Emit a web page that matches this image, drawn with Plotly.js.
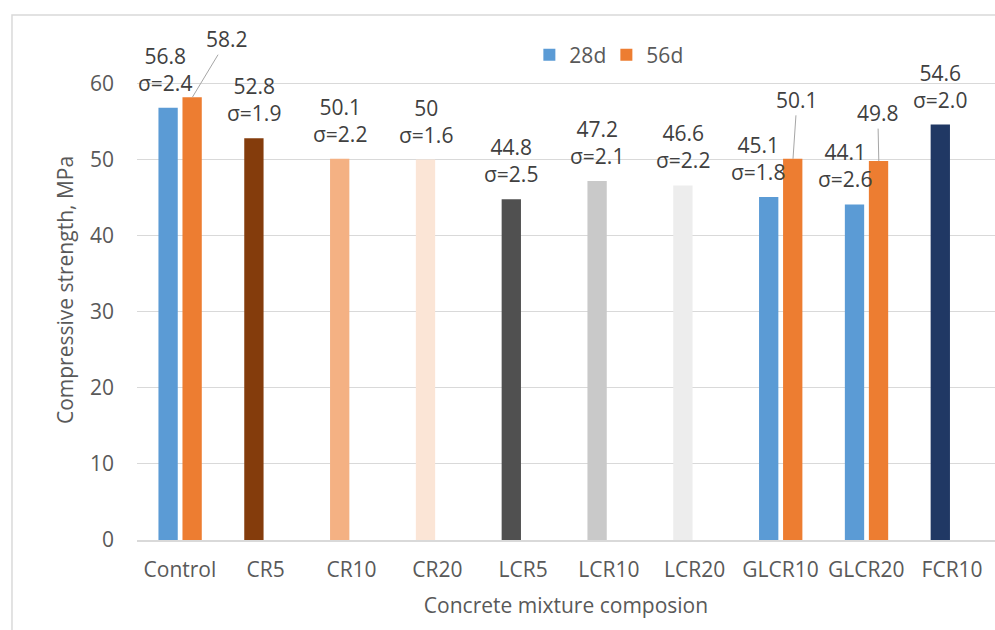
<!DOCTYPE html>
<html><head><meta charset="utf-8">
<script src="https://cdn.plot.ly/plotly-3.0.1.min.js"></script>
<style>body{margin:0;background:#fff}</style>
</head><body><div id="chart" style="width:995px;height:630px"></div>
<script>
const categories = ['Control','CR5','CR10','CR20','LCR5','LCR10','LCR20','GLCR10','GLCR20','FCR10'];
const strength28 = [56.8, 52.8, 50.1, 50, 44.8, 47.2, 46.6, 45.1, 44.1, 54.6];
const label28 = ['56.8','52.8','50.1','50','44.8','47.2','46.6','45.1','44.1','54.6'];
const sigma28 = ['2.4','1.9','2.2','1.6','2.5','2.1','2.2','1.8','2.6','2.0'];
const colors28 = ['#5B9BD5','#843C0C','#F4B183','#FBE5D6','#505050','#C9C9C9','#EDEDED','#5B9BD5','#5B9BD5','#203864'];
const categories56 = ['Control','GLCR10','GLCR20'];
const strength56 = [58.2, 50.1, 49.8];
const label56 = ['58.2','50.1','49.8'];

const FONT = '"Open Sans", sans-serif';
const FS = 21;
const TXT = '#404040';
const AX = '#595959';
const W = 0.225;

const traces = [
  {type:'bar', name:'28d', x:categories, y:strength28, width:W, offset:-0.25,
   marker:{color:colors28}, hoverinfo:'x+y'},
  {type:'bar', name:'56d', x:categories56, y:strength56, width:W, offset:0.03,
   marker:{color:'#ED7D31'}, hoverinfo:'x+y'}
];

const shift28 = {'Control':-3, 'GLCR10':-11, 'GLCR20':-10};
const annotations = [];
categories.forEach((c,i)=>{
  annotations.push({x:c, y:strength28[i], xref:'x', yref:'y',
    text: label28[i] + '<br>σ=' + sigma28[i], showarrow:false,
    yanchor:'bottom', xanchor:'center', yshift:9, xshift: -11.8 + (shift28[c]||0),
    font:{family:FONT, size:FS, color:TXT}});
});
const arrow56 = {'Control':[35,-58], 'GLCR10':[4,-59], 'GLCR20':[-1,-48]};
categories56.forEach((c,i)=>{
  annotations.push({x:c, y:strength56[i], xref:'x', yref:'y',
    text: label56[i], showarrow:true, arrowhead:0, arrowwidth:1, arrowcolor:'#A6A6A6',
    standoff:0, ax:arrow56[c][0], ay:arrow56[c][1], xshift:12.5,
    font:{family:FONT, size:FS, color:TXT}});
});

const layout = {
  width:995, height:630,
  margin:{l:137, r:0, t:40, b:90},
  paper_bgcolor:'#fff', plot_bgcolor:'#fff',
  font:{family:FONT, color:AX, size:FS},
  showlegend:true,
  legend:{orientation:'h', x:0.4573, y:0.97, xanchor:'left', yanchor:'middle',
    font:{family:FONT, size:FS, color:AX}, bgcolor:'rgba(0,0,0,0)', itemwidth:30,
    entrywidth:32, entrywidthmode:'pixels'},
  xaxis:{type:'category', range:[-0.5, 9.5], showgrid:false, zeroline:false,
    showline:true, linecolor:'#D9D9D9', linewidth:1.5, ticks:'',
    tickfont:{family:FONT, size:FS, color:AX}, ticklabelstandoff:10,
    title:{text:'Concrete mixture composion', font:{family:FONT, size:FS, color:AX}, standoff:16}},
  yaxis:{range:[0, 65.72], tickvals:[0,10,20,30,40,50,60], showgrid:true, gridcolor:'#D9D9D9', gridwidth:1,
    zeroline:false, showline:false, ticks:'',
    tickfont:{family:FONT, size:FS, color:AX}, ticklabelstandoff:22,
    title:{text:'Compressive strength, MPa', font:{family:FONT, size:FS, color:AX}, standoff:10}},
  annotations: annotations,
  shapes:[{type:'rect', xref:'paper', yref:'paper', x0:-0.1457, x1:1.2, y0:-0.3, y1:1.05,
    line:{color:'#D9D9D9', width:1.5}, fillcolor:'rgba(0,0,0,0)', layer:'below'}]
};
Plotly.newPlot('chart', traces, layout, {displayModeBar:false, staticPlot:true});
</script></body></html>
